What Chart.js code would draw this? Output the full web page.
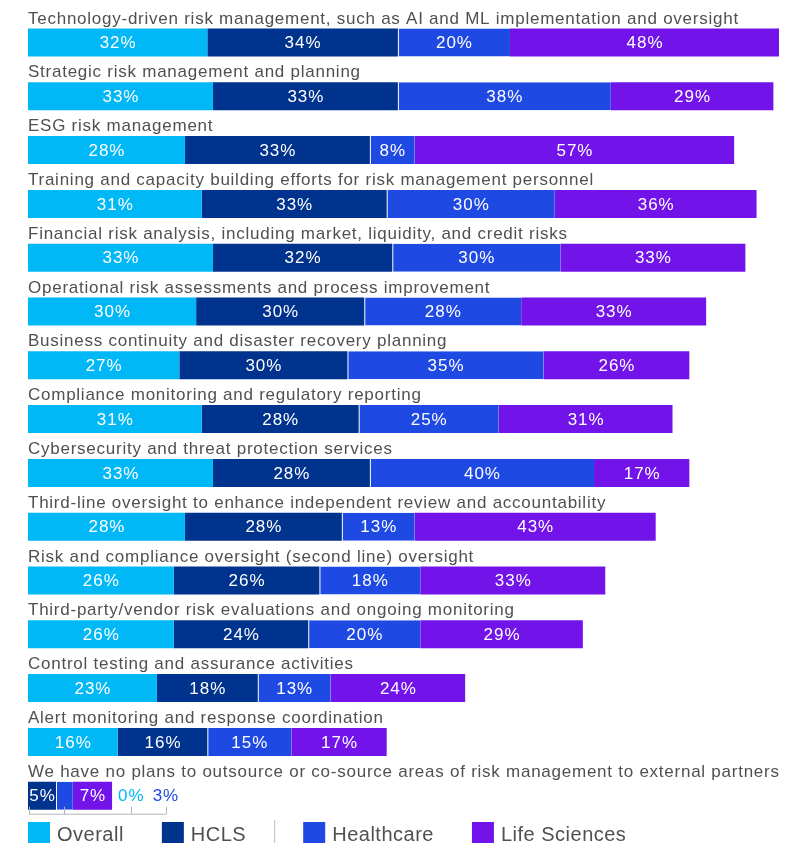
<!DOCTYPE html>
<html>
<head>
<meta charset="utf-8">
<script src="https://cdn.jsdelivr.net/npm/chart.js@4/dist/chart.umd.min.js"></script>
<style>
  body { margin: 0; background: #fff; }
  #wrap { width: 802px; height: 843px; }
</style>
</head>
<body>
<div id="wrap"><canvas id="barChart" width="802" height="843"></canvas></div>
<script>
// Row labels, top to bottom
const categories = [
    'Technology-driven risk management, such as AI and ML implementation and oversight',
    'Strategic risk management and planning',
    'ESG risk management',
    'Training and capacity building efforts for risk management personnel',
    'Financial risk analysis, including market, liquidity, and credit risks',
    'Operational risk assessments and process improvement',
    'Business continuity and disaster recovery planning',
    'Compliance monitoring and regulatory reporting',
    'Cybersecurity and threat protection services',
    'Third-line oversight to enhance independent review and accountability',
    'Risk and compliance oversight (second line) oversight',
    'Third-party/vendor risk evaluations and ongoing monitoring',
    'Control testing and assurance activities',
    'Alert monitoring and response coordination',
    'We have no plans to outsource or co-source areas of risk management to external partners'
];

// Percent values per group
const overall      = [32, 33, 28, 31, 33, 30, 27, 31, 33, 28, 26, 26, 23, 16, 0];
const hcls         = [34, 33, 33, 33, 32, 30, 30, 28, 28, 28, 26, 24, 18, 16, 5];
const healthcare   = [20, 38, 8, 30, 30, 28, 35, 25, 40, 13, 18, 20, 13, 15, 3];
const lifeSciences = [48, 29, 57, 36, 33, 33, 26, 31, 17, 43, 33, 29, 24, 17, 7];

const seriesNames = ['Overall', 'HCLS', 'Healthcare', 'Life Sciences'];
const seriesColors = ['#00B8F5', '#00338D', '#1E49E2', '#7213EA'];

const FONT = '"Liberation Sans", Arial, sans-serif';

const rowLabels = {
    id: 'rowLabels',
    afterDatasetsDraw(chart) {
        const ctx = chart.ctx;
        const xs = chart.scales.x;
        ctx.save();

        categories.forEach((cat, i) => {
            const first = chart.getDatasetMeta(0).data[i];
            const top = first.y - first.height / 2;
            const bottom = first.y + first.height / 2;

            // category text above the bar
            ctx.font = '17px ' + FONT;
            ctx.letterSpacing = '0.75px';
            ctx.fillStyle = '#505050';
            ctx.textAlign = 'left';
            ctx.textBaseline = 'alphabetic';
            ctx.fillText(cat, xs.left, top - 5);

            // value labels
            ctx.font = '17px ' + FONT;
            ctx.letterSpacing = '1px';
            ctx.textBaseline = 'middle';
            let total = 0;
            chart.data.datasets.forEach(ds => { total += ds.data[i]; });
            let outX = xs.getPixelForValue(total) + 6;
            const anchors = [];
            chart.data.datasets.forEach((ds, d) => {
                const bar = chart.getDatasetMeta(d).data[i];
                const text = ds.data[i] + '%';
                const w = ctx.measureText(text).width;
                const segW = Math.abs(bar.x - bar.base);
                if (segW > 20) {
                    ctx.fillStyle = '#ffffff';
                    ctx.textAlign = 'center';
                    ctx.fillText(text, (bar.x + bar.base) / 2 + 0.5, bar.y + 1);
                } else {
                    ctx.fillStyle = ds.backgroundColor;
                    ctx.textAlign = 'left';
                    ctx.fillText(text, outX, bar.y + 1);
                    anchors.push((bar.x + bar.base) / 2 + (segW === 0 ? 1 : 0));
                    anchors.push(outX + w / 2);
                    outX += w + 8;
                }
            });

            // small bracket under rows with outside labels
            if (anchors.length) {
                const yLine = bottom + 4;
                ctx.strokeStyle = '#b5b5b5';
                ctx.lineWidth = 1;
                ctx.beginPath();
                ctx.moveTo(Math.min(...anchors), yLine + 0.5);
                ctx.lineTo(Math.max(...anchors), yLine + 0.5);
                anchors.forEach(a => {
                    ctx.moveTo(Math.round(a) + 0.5, bottom - 3);
                    ctx.lineTo(Math.round(a) + 0.5, yLine + 0.5);
                });
                ctx.stroke();
            }
        });
        ctx.restore();
    },
    afterDraw(chart) {
        // legend along the bottom
        const ctx = chart.ctx;
        ctx.save();
        ctx.font = '20px ' + FONT;
        ctx.letterSpacing = '0.5px';
        ctx.textBaseline = 'middle';
        ctx.textAlign = 'left';
        let x = chart.scales.x.left;
        const boxTop = 822;
        seriesNames.forEach((name, i) => {
            ctx.fillStyle = seriesColors[i];
            ctx.fillRect(x, boxTop, 22, 22);
            ctx.fillStyle = '#505050';
            ctx.fillText(name, x + 29, boxTop + 13);
            x += 29 + ctx.measureText(name).width;
            if (i === 1) {
                ctx.strokeStyle = '#bdbdbd';
                ctx.beginPath();
                ctx.moveTo(x + 28.5, boxTop - 2);
                ctx.lineTo(x + 28.5, boxTop + 22);
                ctx.stroke();
                x += 57;
            } else {
                x += 38;
            }
        });
        ctx.restore();
    }
};

const groups = [overall, hcls, healthcare, lifeSciences];

const ctx = document.getElementById('barChart').getContext('2d');
const chart = new Chart(ctx, {
    type: 'bar',
    data: {
        labels: categories,
        datasets: groups.map((vals, i) => ({
            label: seriesNames[i],
            data: vals,
            backgroundColor: seriesColors[i],
            borderColor: 'rgba(255,255,255,0.85)',
            borderWidth: i === 2 ? { left: 1, right: 0, top: 0, bottom: 0 } : 0,
            borderSkipped: false,
            barPercentage: 0.52,
            categoryPercentage: 1
        }))
    },
    options: {
        indexAxis: 'y',
        responsive: false,
        animation: false,
        layout: {
            padding: { left: 28, right: 23, top: 15.6, bottom: 20.4 }
        },
        scales: {
            x: { stacked: true, min: 0, max: 134, display: false },
            y: { stacked: true, display: false }
        },
        plugins: {
            legend: { display: false },
            tooltip: { enabled: false }
        }
    },
    plugins: [rowLabels]
});
</script>
</body>
</html>
